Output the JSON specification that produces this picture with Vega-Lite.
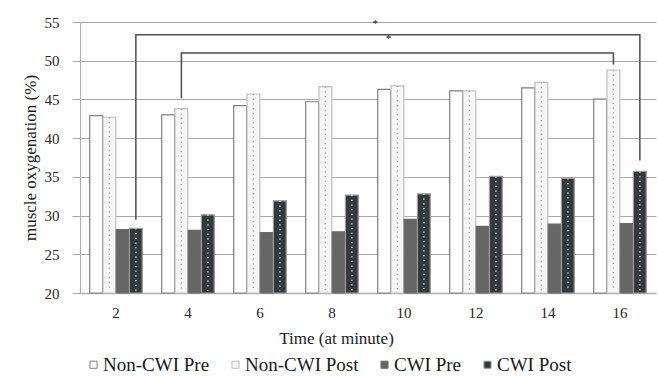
{
  "$schema": "https://vega.github.io/schema/vega-lite/v6.json",
  "width": 576,
  "height": 271,
  "autosize": {"type": "none"},
  "padding": {"left": 80, "top": 22, "right": 2, "bottom": 83},
  "background": "white",
  "config": {
    "font": "Liberation Serif",
    "view": {"stroke": null},
    "axis": {"labelFont": "Liberation Serif", "titleFont": "Liberation Serif"},
    "legend": {"labelFont": "Liberation Serif", "titleFont": "Liberation Serif"},
    "text": {"font": "Liberation Serif"}
  },
  "datasets": {
    "bars": [
      {"time": 2, "series": "Non-CWI Pre", "value": 42.9},
      {"time": 2, "series": "Non-CWI Post", "value": 42.7},
      {"time": 2, "series": "CWI Pre", "value": 28.2},
      {"time": 2, "series": "CWI Post", "value": 28.35},
      {"time": 4, "series": "Non-CWI Pre", "value": 43.0},
      {"time": 4, "series": "Non-CWI Post", "value": 43.8},
      {"time": 4, "series": "CWI Pre", "value": 28.1},
      {"time": 4, "series": "CWI Post", "value": 30.1},
      {"time": 6, "series": "Non-CWI Pre", "value": 44.2},
      {"time": 6, "series": "Non-CWI Post", "value": 45.7},
      {"time": 6, "series": "CWI Pre", "value": 27.8},
      {"time": 6, "series": "CWI Post", "value": 31.9},
      {"time": 8, "series": "Non-CWI Pre", "value": 44.7},
      {"time": 8, "series": "Non-CWI Post", "value": 46.65},
      {"time": 8, "series": "CWI Pre", "value": 27.9},
      {"time": 8, "series": "CWI Post", "value": 32.65},
      {"time": 10, "series": "Non-CWI Pre", "value": 46.3},
      {"time": 10, "series": "Non-CWI Post", "value": 46.75},
      {"time": 10, "series": "CWI Pre", "value": 29.5},
      {"time": 10, "series": "CWI Post", "value": 32.8},
      {"time": 12, "series": "Non-CWI Pre", "value": 46.1},
      {"time": 12, "series": "Non-CWI Post", "value": 46.1},
      {"time": 12, "series": "CWI Pre", "value": 28.6},
      {"time": 12, "series": "CWI Post", "value": 35.05},
      {"time": 14, "series": "Non-CWI Pre", "value": 46.5},
      {"time": 14, "series": "Non-CWI Post", "value": 47.2},
      {"time": 14, "series": "CWI Pre", "value": 28.9},
      {"time": 14, "series": "CWI Post", "value": 34.8},
      {"time": 16, "series": "Non-CWI Pre", "value": 45.05},
      {"time": 16, "series": "Non-CWI Post", "value": 48.8},
      {"time": 16, "series": "CWI Pre", "value": 28.95},
      {"time": 16, "series": "CWI Post", "value": 35.7}
    ],
    "brackets": [
      {"bracket": "outer", "ord": 1, "time": 2, "series": "CWI Post", "value": 29.45},
      {"bracket": "outer", "ord": 2, "time": 2, "series": "CWI Post", "value": 53.35},
      {"bracket": "outer", "ord": 3, "time": 16, "series": "CWI Post", "value": 53.35},
      {"bracket": "outer", "ord": 4, "time": 16, "series": "CWI Post", "value": 37.1},
      {"bracket": "inner", "ord": 1, "time": 4, "series": "Non-CWI Post", "value": 45.15},
      {"bracket": "inner", "ord": 2, "time": 4, "series": "Non-CWI Post", "value": 51.0},
      {"bracket": "inner", "ord": 3, "time": 16, "series": "Non-CWI Post", "value": 51.0},
      {"bracket": "inner", "ord": 4, "time": 16, "series": "Non-CWI Post", "value": 49.5}
    ],
    "stars": [
      {"time": 10, "series": "Non-CWI Pre", "value": 55.0, "label": "*"},
      {"time": 10, "series": "Non-CWI Post", "value": 53.1, "label": "*"}
    ]
  },
  "encoding": {
    "x": {
      "field": "time",
      "type": "ordinal",
      "scale": {"domain": [2, 4, 6, 8, 10, 12, 14, 16], "paddingInner": 0.27, "paddingOuter": 0.135},
      "axis": {
        "title": "Time (at minute)",
        "labelAngle": 0,
        "labelFont": "Liberation Serif",
        "labelFontSize": 15,
        "labelColor": "#262626",
        "labelPadding": 12,
        "ticks": false,
        "domainColor": "#b0b0b0",
        "domainWidth": 1.5,
        "titleFont": "Liberation Serif",
        "titleFontSize": 17,
        "titleFontWeight": "normal",
        "titleColor": "#1a1a1a",
        "titleX": 256,
        "titleY": 50,
        "titleBaseline": "alphabetic",
        "titleAlign": "center",
        "titleAnchor": null
      }
    },
    "xOffset": {
      "field": "series",
      "type": "nominal",
      "scale": {"domain": ["Non-CWI Pre", "Non-CWI Post", "CWI Pre", "CWI Post"], "paddingInner": 0.03}
    },
    "y": {
      "field": "value",
      "type": "quantitative",
      "scale": {"domain": [20, 55], "nice": false, "zero": false},
      "axis": {
        "title": "muscle oxygenation (%)",
        "values": [20, 25, 30, 35, 40, 45, 50, 55],
        "labelOverlap": false,
        "grid": true,
        "gridColor": "#a8a8a8",
        "gridWidth": 1,
        "tickSize": 8,
        "tickColor": "#a8a8a8",
        "domainColor": "#b0b0b0",
        "labelFont": "Liberation Serif",
        "labelFontSize": 15,
        "labelColor": "#262626",
        "labelPadding": 13,
        "titleFont": "Liberation Serif",
        "titleFontSize": 17,
        "titleFontWeight": "normal",
        "titleColor": "#1a1a1a",
        "titlePadding": 5
      }
    }
  },
  "layer": [
    {
      "data": {"name": "bars"},
      "mark": {"type": "bar", "strokeWidth": 1.2},
      "encoding": {
        "y2": {"datum": 20},
        "fill": {
          "field": "series",
          "type": "nominal",
          "scale": {
            "domain": ["Non-CWI Pre", "Non-CWI Post", "CWI Pre", "CWI Post"],
            "range": ["#ffffff", "#f6f6f6", "#666666", "#333a3c"]
          },
          "legend": {
            "title": null,
            "orient": "none",
            "direction": "horizontal",
            "legendX": 4,
            "legendY": 333,
            "symbolType": "square",
            "symbolSize": 50,
            "symbolStrokeWidth": 1,
            "labelFont": "Liberation Serif",
            "labelFontSize": 19,
            "labelColor": "#1a1a1a",
            "labelOffset": 0,
            "columnPadding": 16
          }
        },
        "stroke": {
          "field": "series",
          "type": "nominal",
          "scale": {
            "domain": ["Non-CWI Pre", "Non-CWI Post", "CWI Pre", "CWI Post"],
            "range": ["#7f7f7f", "#bdbdbd", "#6a6a6a", "#9a9a9a"]
          },
          "legend": null
        }
      }
    },
    {
      "data": {"name": "bars"},
      "transform": [{"filter": "datum.series === 'Non-CWI Post'"}],
      "mark": {"type": "rule", "strokeDash": [1.2, 3.5], "strokeWidth": 1.4, "color": "#9a9a9a"},
      "encoding": {
        "y2": {"datum": 20.3}
      }
    },
    {
      "data": {"name": "bars"},
      "transform": [{"filter": "datum.series === 'CWI Post'"}],
      "mark": {"type": "rule", "strokeDash": [1.2, 3.5], "strokeWidth": 1.6, "color": "#d4d4d4"},
      "encoding": {
        "y2": {"datum": 20.3}
      }
    },
    {
      "data": {"name": "brackets"},
      "mark": {"type": "line", "color": "#4d4d4d", "strokeWidth": 1.5, "interpolate": "linear"},
      "encoding": {
        "detail": {"field": "bracket"},
        "order": {"field": "ord", "type": "quantitative"}
      }
    },
    {
      "data": {"name": "stars"},
      "mark": {"type": "text", "fontSize": 11, "color": "#111111", "baseline": "middle", "dy": 2, "dx": -9},
      "encoding": {
        "text": {"field": "label"}
      }
    }
  ]
}
